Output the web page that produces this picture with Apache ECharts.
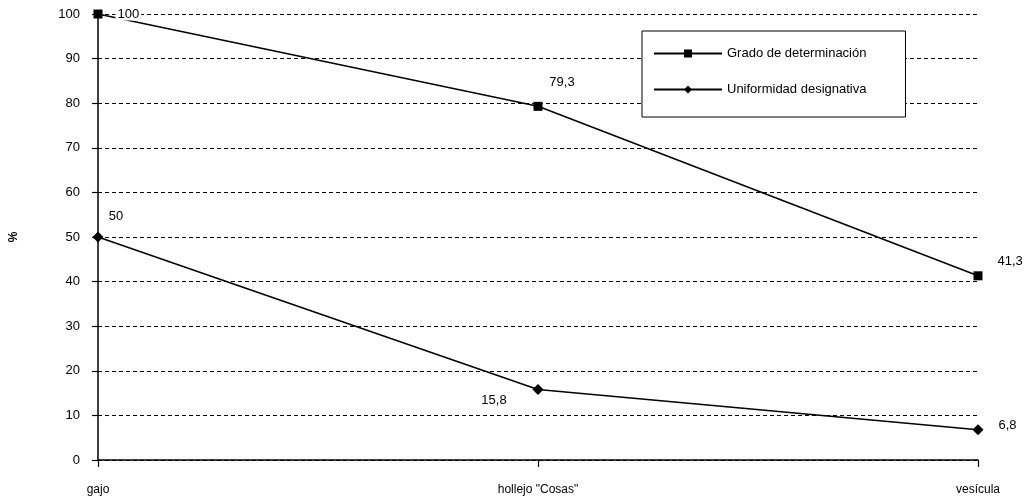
<!DOCTYPE html>
<html>
<head>
<meta charset="utf-8">
<script src="https://cdn.jsdelivr.net/npm/echarts@6/dist/echarts.min.js"></script>
<style>
html,body{margin:0;padding:0;background:#fff;}
#chart{width:1036px;height:503px;}
</style>
</head>
<body>
<div id="chart"></div>
<script>
const categories = ['gajo', 'hollejo "Cosas"', 'vesícula'];
const gradoValues = [100, 79.3, 41.3];
const uniformValues = [50, 15.8, 6.8];
const gradoLabels = ['100', '79,3', '41,3'];
const uniformLabels = ['50', '15,8', '6,8'];
const yTicks = [0, 10, 20, 30, 40, 50, 60, 70, 80, 90, 100];

const FONT = 'Liberation Sans, Arial, sans-serif';
const chart = echarts.init(document.getElementById('chart'), null, {renderer: 'canvas'});

const gradoLabelCfg = [
  {position: 'right', offset: [8, 0], backgroundColor: '#fff', padding: [0, 2]},
  {position: 'top', offset: [24, -8]},
  {position: 'right', offset: [10, -14]}
];
const uniformLabelCfg = [
  {position: 'top', offset: [18, -4]},
  {position: 'bottom', offset: [-44, -6]},
  {position: 'right', offset: [10, -4]}
];

function buildData(values, labels, cfgs) {
  return values.map((v, i) => ({
    value: v,
    label: Object.assign({
      show: true,
      formatter: labels[i],
      color: '#000',
      fontFamily: FONT,
      fontSize: 13
    }, cfgs[i])
  }));
}

chart.setOption({
  animation: false,
  backgroundColor: '#fff',
  grid: {left: 98, right: 58, top: 14, bottom: 43, containLabel: false, outerBoundsMode: 'none'},
  legend: {
    orient: 'vertical',
    left: 642,
    top: 31,
    padding: [16, 39, 21, 11],
    itemGap: 23,
    itemWidth: 68,
    itemHeight: 10,
    borderColor: '#000',
    borderWidth: 1,
    backgroundColor: '#fff',
    textStyle: {color: '#000', fontFamily: FONT, fontSize: 13},
    data: ['Grado de determinación', 'Uniformidad designativa']
  },
  xAxis: {
    type: 'category',
    data: categories,
    boundaryGap: false,
    axisLine: {lineStyle: {color: '#000', width: 1.5}},
    axisTick: {show: true, length: 7, inside: false, lineStyle: {color: '#000', width: 1.2}},
    axisLabel: {color: '#000', fontFamily: FONT, fontSize: 12, margin: 24},
    splitLine: {show: false}
  },
  yAxis: {
    type: 'value',
    min: 0,
    max: 100,
    interval: 10,
    name: '%',
    nameLocation: 'middle',
    nameRotate: 90,
    nameGap: 78,
    nameTextStyle: {color: '#000', fontFamily: FONT, fontSize: 12, fontWeight: 'bold'},
    axisLine: {show: true, lineStyle: {color: '#000', width: 1.5}},
    axisTick: {show: true, length: 6, lineStyle: {color: '#000', width: 1.2}},
    axisLabel: {
      color: '#000', fontFamily: FONT, fontSize: 13, margin: 18,
      formatter: v => (yTicks.indexOf(v) >= 0 ? String(v) : '')
    },
    splitLine: {show: true, lineStyle: {color: '#000', type: [4, 3], width: 1.2}}
  },
  series: [
    {
      name: 'Grado de determinación',
      type: 'line',
      data: buildData(gradoValues, gradoLabels, gradoLabelCfg),
      symbol: 'rect',
      symbolSize: 9,
      clip: false,
      z: 3,
      lineStyle: {color: '#000', width: 1.5},
      itemStyle: {color: '#000'}
    },
    {
      name: 'Uniformidad designativa',
      type: 'line',
      data: buildData(uniformValues, uniformLabels, uniformLabelCfg),
      symbol: 'diamond',
      symbolSize: 11,
      clip: false,
      z: 3,
      lineStyle: {color: '#000', width: 1.5},
      itemStyle: {color: '#000'}
    }
  ]
});
</script>
</body>
</html>
